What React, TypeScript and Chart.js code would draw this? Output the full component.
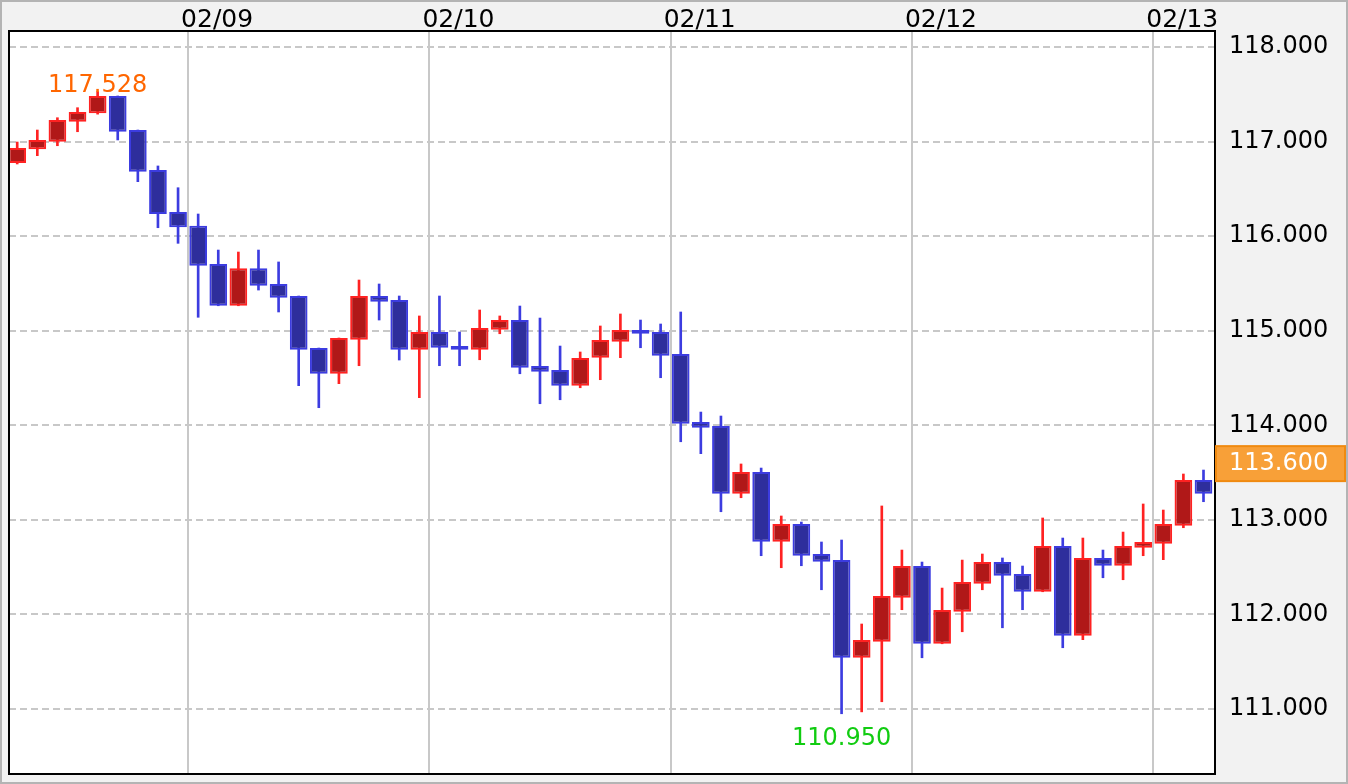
import React, { useEffect, useRef } from "react";
import { Chart, registerables } from "chart.js";

Chart.register(...registerables);

// ---- data ----
const dayLabels = ["02/09", "02/10", "02/11", "02/12", "02/13"];
const dayBoundaries = [8.5, 20.5, 32.5, 44.5, 56.5];
const yTickValues = [111, 112, 113, 114, 115, 116, 117, 118];

const opens = [
  116.773, 116.918, 116.999, 117.21, 117.299, 117.482, 117.122, 116.699, 116.255, 116.11,
  115.705, 115.264, 115.66, 115.494, 115.367, 114.817, 114.545, 114.905, 115.367, 115.325,
  114.799, 114.986, 114.838, 114.799, 115.01, 115.113, 114.627, 114.585, 114.419, 114.715,
  114.884, 115.008, 114.986, 114.754, 114.035, 113.992, 113.277, 113.506, 112.769, 112.956,
  112.639, 112.575, 111.542, 111.712, 112.177, 112.512, 111.69, 112.029, 112.325, 112.554,
  112.427, 112.24, 112.723, 111.775, 112.597, 112.515, 112.706, 112.748, 112.938, 113.421,
];
const highs = [
  116.995, 117.122, 117.252, 117.358, 117.528, 117.482, 117.122, 116.742, 116.512, 116.234,
  115.853, 115.832, 115.853, 115.727, 115.367, 114.817, 114.923, 115.536, 115.494, 115.367,
  115.156, 115.367, 114.986, 115.219, 115.156, 115.261, 115.134, 114.838, 114.775, 115.05,
  115.177, 115.113, 115.071, 115.198, 114.14, 114.098, 113.591, 113.548, 113.041, 112.977,
  112.766, 112.787, 111.899, 113.147, 112.681, 112.554, 112.279, 112.575, 112.639, 112.597,
  112.512, 113.02, 112.808, 112.808, 112.681, 112.871, 113.168, 113.104, 113.485, 113.527,
];
const lows = [
  116.763, 116.851, 116.956, 117.104, 117.29, 117.017, 116.576, 116.089, 115.924, 115.142,
  115.264, 115.264, 115.43, 115.198, 114.419, 114.186, 114.44, 114.63, 115.113, 114.69,
  114.292, 114.63, 114.63, 114.693, 114.968, 114.545, 114.228, 114.27, 114.397, 114.482,
  114.715, 114.82, 114.503, 113.826, 113.7, 113.086, 113.234, 112.621, 112.494, 112.515,
  112.261, 110.95, 110.97, 111.077, 112.05, 111.542, 111.69, 111.817, 112.261, 111.859,
  112.05, 112.24, 111.648, 111.733, 112.388, 112.367, 112.621, 112.579, 112.917, 113.192,
];
const closes = [
  116.932, 117.017, 117.228, 117.313, 117.482, 117.104, 116.681, 116.234, 116.093, 115.687,
  115.264, 115.66, 115.476, 115.349, 114.799, 114.545, 114.923, 115.367, 115.307, 114.799,
  114.986, 114.82, 114.799, 115.029, 115.113, 114.609, 114.567, 114.419, 114.711, 114.902,
  115.008, 114.968, 114.736, 114.017, 113.974, 113.277, 113.506, 112.769, 112.956, 112.621,
  112.558, 111.542, 111.729, 112.195, 112.512, 111.69, 112.047, 112.343, 112.554, 112.409,
  112.24, 112.723, 111.775, 112.597, 112.515, 112.723, 112.766, 112.956, 113.421, 113.277,
];

const maxIndex = 4;
const maxValue = 117.528;
const minIndex = 41;
const minValue = 110.95;
const currentPrice = 113.6;

// ---- styles ----
const FONT = "DejaVu Sans";
const UP_FILL = "#b01818";
const UP_LINE = "#ff2222";
const DOWN_FILL = "#2e2e9c";
const DOWN_LINE = "#3c3ce0";

export default function App() {
  const canvasRef = useRef<HTMLCanvasElement | null>(null);

  useEffect(() => {
    const canvas = canvasRef.current;
    if (!canvas) return;

    const isUp = opens.map((o, i) => closes[i] >= o);

    const decorPlugin = {
      id: "decor",
      beforeDraw(chart: any) {
        const { ctx, chartArea, width, height } = chart;
        ctx.save();
        ctx.fillStyle = "#f2f2f2";
        ctx.fillRect(0, 0, width, height);
        ctx.fillStyle = "#ffffff";
        ctx.fillRect(chartArea.left, chartArea.top, chartArea.right - chartArea.left, chartArea.bottom - chartArea.top);
        ctx.strokeStyle = "#b4b4b4";
        ctx.lineWidth = 2;
        ctx.strokeRect(1, 1, width - 2, height - 2);
        ctx.restore();
      },
      afterDraw(chart: any) {
        const { ctx, chartArea, scales } = chart;
        const xs = scales.x;
        const ys = scales.y;
        ctx.save();
        // plot border
        ctx.strokeStyle = "#000000";
        ctx.lineWidth = 2;
        ctx.strokeRect(chartArea.left, chartArea.top, chartArea.right - chartArea.left, chartArea.bottom - chartArea.top);
        // max / min labels
        ctx.font = `24px "${FONT}"`;
        ctx.textAlign = "center";
        ctx.textBaseline = "alphabetic";
        ctx.fillStyle = "#ff6600";
        ctx.fillText(maxValue.toFixed(3), xs.getPixelForValue(maxIndex), ys.getPixelForValue(maxValue));
        ctx.fillStyle = "#11cc11";
        ctx.fillText(minValue.toFixed(3), xs.getPixelForValue(minIndex), ys.getPixelForValue(minValue) + 31);
        // current price box
        const py = ys.getPixelForValue(currentPrice);
        ctx.fillStyle = "#f8a038";
        ctx.fillRect(chartArea.right + 1, py - 17, 129, 35);
        ctx.strokeStyle = "#f08a10";
        ctx.lineWidth = 2;
        ctx.strokeRect(chartArea.right + 1, py - 17, 129, 35);
        ctx.fillStyle = "#ffffff";
        ctx.textAlign = "left";
        ctx.textBaseline = "middle";
        ctx.fillText(currentPrice.toFixed(3), chartArea.right + 14, py + 1);
        ctx.restore();
      },
    };

    const chart = new Chart(canvas, {
      type: "bar",
      data: {
        datasets: [
          {
            label: "body",
            data: opens.map((o, i) => ({ x: i, y: [o, closes[i]] })) as any,
            backgroundColor: isUp.map((u) => (u ? UP_FILL : DOWN_FILL)),
            borderColor: isUp.map((u) => (u ? UP_LINE : DOWN_LINE)),
            borderWidth: 2,
            borderSkipped: false,
            grouped: false,
            categoryPercentage: 1,
            barPercentage: 0.88,
          } as any,
          {
            label: "wick",
            data: lows.map((l, i) => ({ x: i, y: [l, highs[i]] })) as any,
            backgroundColor: isUp.map((u) => (u ? UP_LINE : DOWN_LINE)),
            borderWidth: 0,
            grouped: false,
            categoryPercentage: 1,
            barPercentage: 1,
            maxBarThickness: 2,
          } as any,
        ],
      },
      options: {
        responsive: false,
        devicePixelRatio: 1,
        animation: false,
        events: [],
        layout: { padding: { left: 9, top: 0, right: 0, bottom: 10 } },
        plugins: { legend: { display: false }, tooltip: { enabled: false } },
        scales: {
          x: {
            type: "linear",
            position: "top",
            offset: false,
            min: -0.408,
            max: 59.572,
            grid: { color: "#c8c8c8", lineWidth: 2, drawTicks: false, offset: false },
            border: { display: false },
            ticks: {
              autoSkip: false,
              maxRotation: 0,
              align: "start",
              labelOffset: -7,
              padding: -4,
              color: "#000000",
              font: { family: FONT, size: 25 },
              callback: (_v: any, index: number) => dayLabels[index],
            },
            afterBuildTicks: (scale: any) => {
              scale.ticks = dayBoundaries.map((v) => ({ value: v }));
            },
            afterFit: (scale: any) => {
              scale.height = 31;
              scale.paddingLeft = 0;
              scale.paddingRight = 0;
            },
          } as any,
          y: {
            type: "linear",
            position: "right",
            min: 110.313,
            max: 118.169,
            grid: { color: "#c8c8c8", lineWidth: 2, drawTicks: false },
            border: { display: false, dash: [7, 4] },
            ticks: {
              padding: 14,
              color: "#000000",
              font: { family: FONT, size: 24 },
              callback: (v: any) => Number(v).toFixed(3),
            },
            afterBuildTicks: (scale: any) => {
              scale.ticks = yTickValues.map((v) => ({ value: v }));
            },
            afterFit: (scale: any) => {
              scale.width = 133;
              scale.paddingTop = 0;
              scale.paddingBottom = 0;
            },
          } as any,
        },
      },
      plugins: [decorPlugin],
    });

    return () => chart.destroy();
  }, []);

  return (
    <div style={{ position: "absolute", left: 0, top: 0, width: 1348, height: 784 }}>
      <canvas ref={canvasRef} width={1348} height={784} style={{ display: "block" }} />
    </div>
  );
}
